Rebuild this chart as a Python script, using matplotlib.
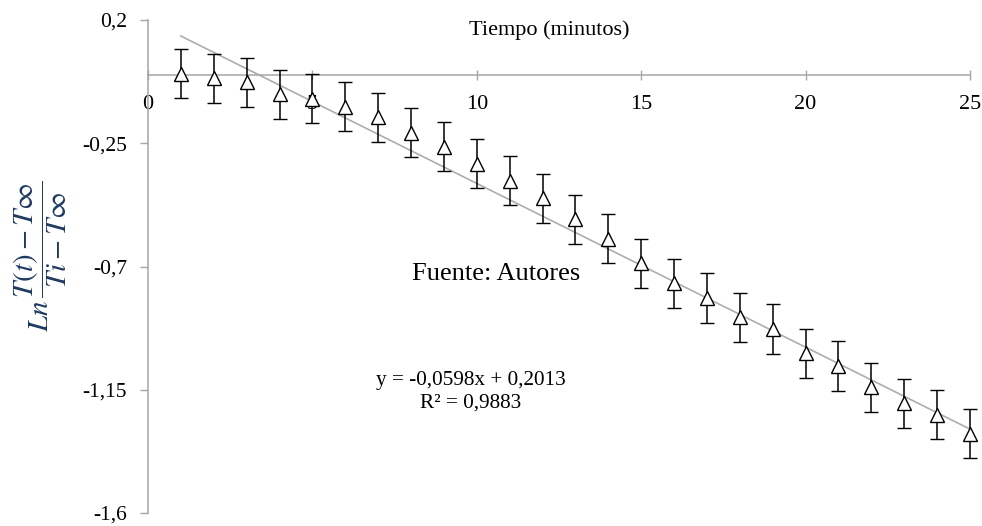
import matplotlib.pyplot as plt
from matplotlib.ticker import FuncFormatter

plt.rcParams['font.family'] = ['Liberation Serif', 'DejaVu Serif']
plt.rcParams['mathtext.fontset'] = 'stix'

# Data
tiempo = [1, 2, 3, 4, 5, 6, 7, 8, 9, 10, 11, 12, 13,
          14, 15, 16, 17, 18, 19, 20, 21, 22, 23, 24, 25]
ln_temp = [0.004, -0.013, -0.027, -0.072, -0.087, -0.117, -0.155, -0.211,
           -0.262, -0.324, -0.387, -0.451, -0.528, -0.598, -0.688, -0.761,
           -0.815, -0.885, -0.928, -1.017, -1.063, -1.141, -1.199, -1.241, -1.311]
error = 0.09
slope = -0.0598
intercept = 0.2013
r2 = 0.9883
x_ticks = [0, 5, 10, 15, 20, 25]
y_ticks = [0.2, -0.25, -0.7, -1.15, -1.6]


def coma(v, pos=None):
    return f"{v:g}".replace('.', ',')


fig = plt.figure(figsize=(9.82, 5.26), dpi=100)
ax = fig.add_axes([148 / 982, 1 - 513 / 526, 822 / 982, 493 / 526])

# trend line
x_fit = [tiempo[0], tiempo[-1]]
y_fit = [slope * x + intercept for x in x_fit]
ax.plot(x_fit, y_fit, color='#ADADAD', lw=1.2, zorder=2)

# points with error bars
eb = ax.errorbar(tiempo, ln_temp, yerr=error, fmt='^', mfc='white', mec='black',
                 ms=9.5, mew=1.0, ecolor='black', elinewidth=1.1, capsize=5,
                 capthick=1.1, zorder=3)
for art in eb.lines[0:1] + tuple(eb.lines[1]) + tuple(eb.lines[2]):
    art.set_clip_on(False)

ax.set_xlim(0, 25)
ax.set_ylim(-1.6, 0.2)
ax.set_xticks(x_ticks)
ax.set_yticks(y_ticks)
ax.xaxis.set_major_formatter(FuncFormatter(coma))
ax.yaxis.set_major_formatter(FuncFormatter(coma))

for s in ['top', 'right']:
    ax.spines[s].set_visible(False)
ax.spines['bottom'].set_position(('data', 0))
ax.spines['left'].set_color('#A6A6A6')
ax.spines['bottom'].set_color('#A6A6A6')
ax.spines['left'].set_linewidth(1.1)
ax.spines['bottom'].set_linewidth(1.1)

ax.tick_params(axis='x', direction='inout', length=7, width=1, color='#A6A6A6',
               labelsize=16, pad=11)
ax.tick_params(axis='y', direction='out', length=6, width=1, color='#A6A6A6',
               labelsize=15.5, pad=9)

ax.text(12.2, 0.163, 'Tiempo (minutos)', ha='center', va='center', fontsize=16)
ax.text(10.6, -0.726, 'Fuente: Autores', ha='center', va='center', fontsize=19)
ax.text(9.82, -1.115, f"y = {coma(slope)}x + {coma(intercept)}",
        ha='center', va='center', fontsize=15.3)
ax.text(9.82, -1.2, f"R² = {coma(r2)}", ha='center', va='center', fontsize=15.3)

fig.text(40 / 982, 1 - 256 / 526,
         r'$Ln\,\dfrac{T(t)-T\infty}{Ti-T\infty}$',
         rotation=90, ha='center', va='center', fontsize=21, color='#1F3A60')

fig.savefig('out.png', dpi=100)
